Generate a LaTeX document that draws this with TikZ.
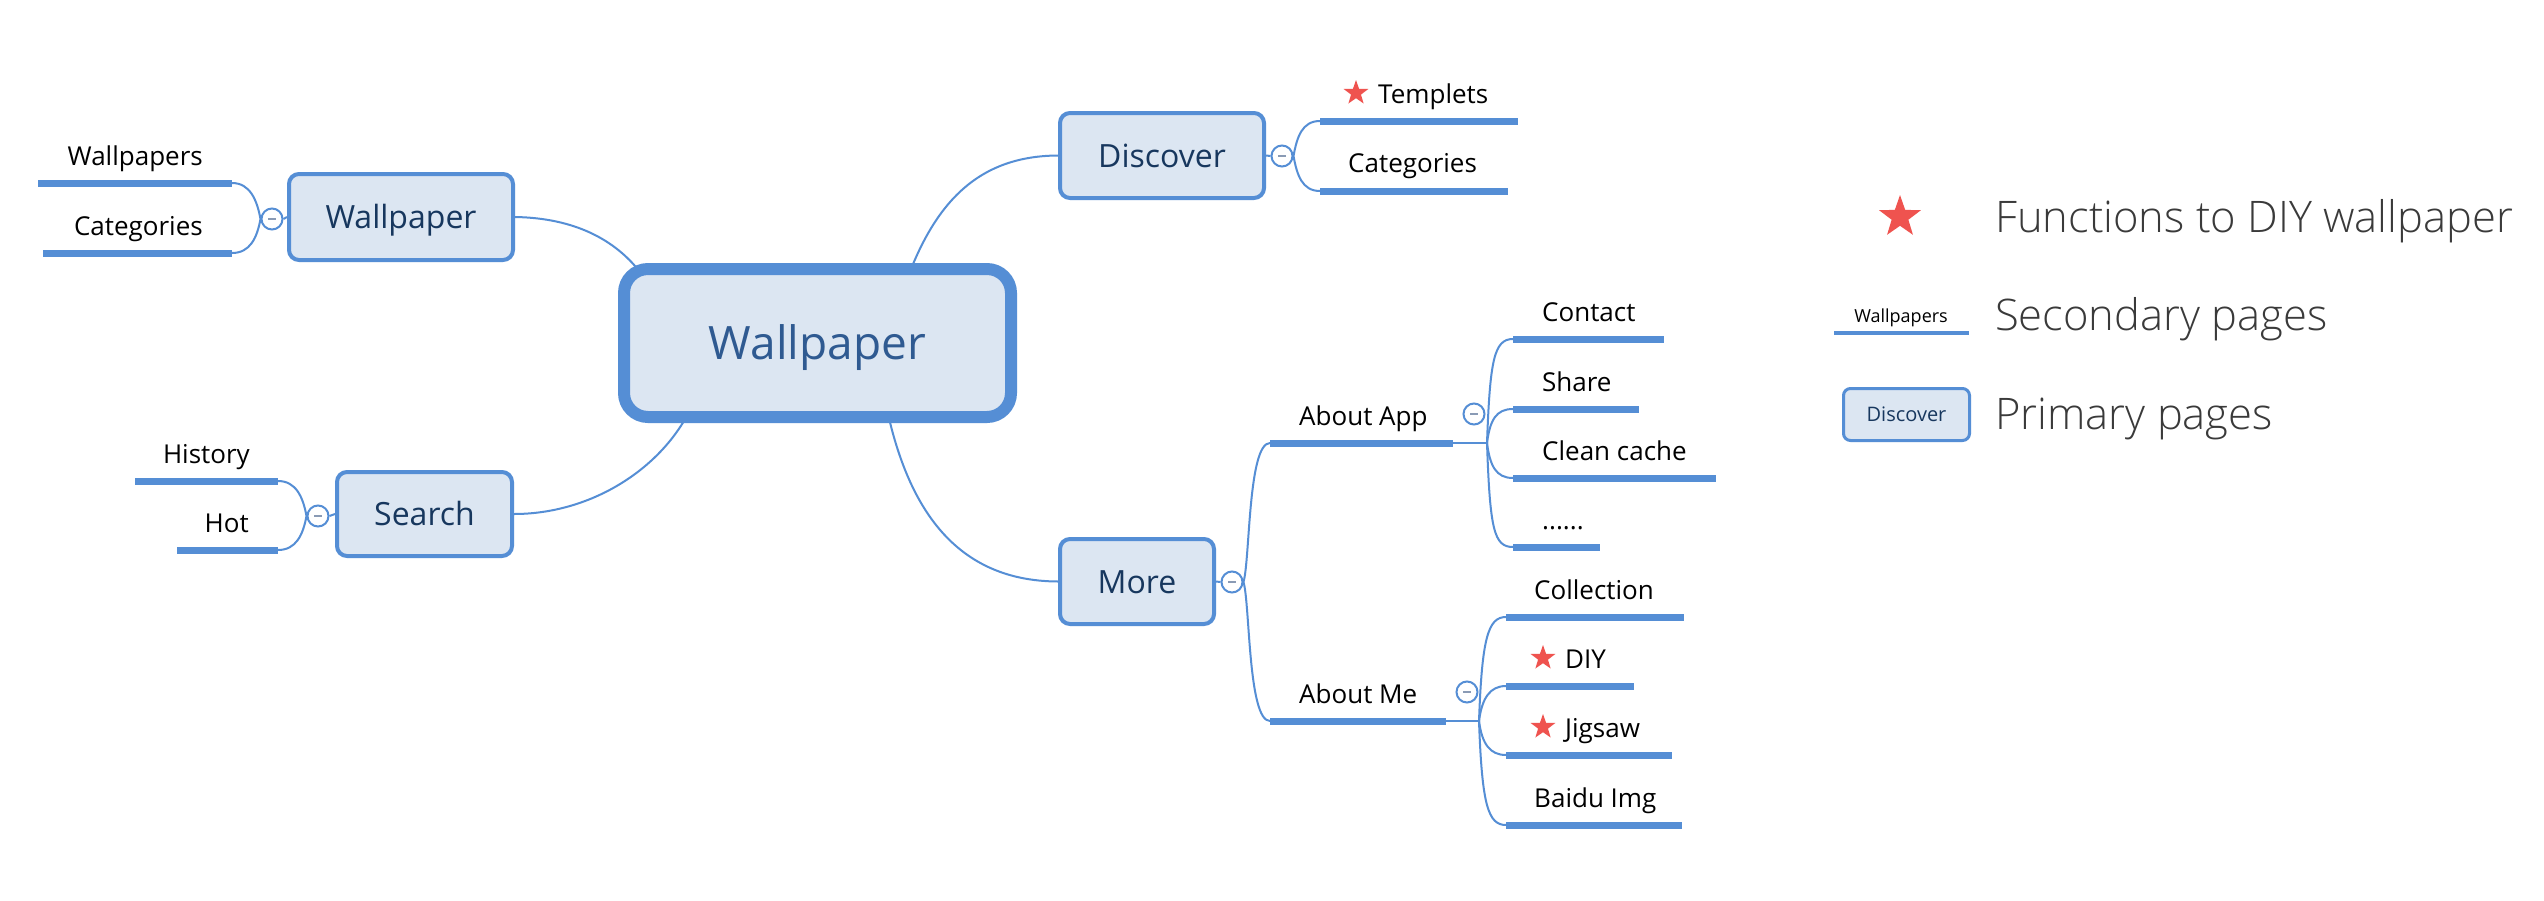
\documentclass[tikz,border=0pt]{standalone}
\usepackage{fontspec}
\setmainfont{Open Sans}
\IfFontExistsTF{Open Sans Light}{\newfontfamily\lightfont{Open Sans Light}}{\newfontfamily\lightfont{Open Sans}}
\usetikzlibrary{shapes.geometric}
\definecolor{mblue}{HTML}{558ED5}
\definecolor{mfill}{HTML}{DCE6F2}
\definecolor{navy}{HTML}{17375E}
\definecolor{ctext}{HTML}{2F5A91}
\definecolor{starred}{HTML}{EF534F}
\definecolor{legtext}{HTML}{3A3A3A}
\definecolor{dashgray}{HTML}{8A9BB5}
\pgfdeclarelayer{bg}
\pgfsetlayers{bg,main}
\begin{document}
\begin{tikzpicture}[x=1pt,y=-1pt,
  primary/.style={draw=mblue, fill=mfill, line width=4pt, rounded corners=10pt, text=navy, inner sep=0pt, font=\fontsize{32}{36}\selectfont, text height=23pt, text depth=0pt},
  central/.style={draw=mblue, fill=mfill, line width=12pt, rounded corners=24pt, text=ctext, inner sep=0pt, font=\fontsize{46}{52}\selectfont, text height=33pt, text depth=0pt},
  conn/.style={draw=mblue, line width=2pt},
  uline/.style={draw=mblue, line width=7pt},
  sec/.style={font=\fontsize{26}{30}\selectfont, text=black, inner sep=0pt},
  collapse/.style={circle, draw=mblue, line width=2pt, fill=white, minimum size=21pt, inner sep=0pt,
    path picture={\draw[dashgray, line width=2pt] ([xshift=-4pt]path picture bounding box.center) -- ([xshift=4pt]path picture bounding box.center);}},
  staricon/.style={star, star points=5, star point ratio=2.5, fill=starred, draw=none, inner sep=0pt, minimum size=#1},
  staricon/.default=26pt,
  legend/.style={font=\lightfont\fontsize{43.5}{48}\selectfont, text=legtext, inner sep=0pt, anchor=base west}
]
\useasboundingbox (0,0) rectangle (2544,900);
\begin{pgfonlayer}{bg}
\fill[white] (0,0) rectangle (2544,900);
\end{pgfonlayer}

% primary nodes
\node[central, minimum width=387pt, minimum height=148pt] (root) at (817.5,343) {Wallpaper};
\node[primary, minimum width=224pt, minimum height=86pt] (wp) at (401,217) {Wallpaper};
\node[primary, minimum width=175pt, minimum height=84pt] (search) at (424.5,514) {Search};
\node[primary, minimum width=204pt, minimum height=85pt] (disc) at (1162,155.5) {Discover};
\node[primary, minimum width=154pt, minimum height=85pt] (more) at (1137,581.5) {More};

\coordinate (rootWP) at (640,272);
\coordinate (rootS) at (690,410);
\coordinate (rootD) at (905,285);
\coordinate (rootM) at (885,400);
\begin{pgfonlayer}{bg}
\draw[conn] (wp.east) .. controls (575,218) and (615,240) .. (rootWP);
\draw[conn] (search.east) .. controls (590,514) and (660,470) .. (rootS);
\draw[conn] (rootD) .. controls (935,200) and (980,156) .. (disc.west);
\draw[conn] (rootM) .. controls (905,500) and (950,581) .. (more.west);
\end{pgfonlayer}

% ---- left Wallpaper group
\node[collapse] (cwp) at (272,219) {};
\draw[conn] (wp.west) -- (cwp.east);
\coordinate (wpa1) at (38,183); \coordinate (wpa2) at (232,183);
\coordinate (wpb1) at (43,253); \coordinate (wpb2) at (232,253);
\draw[uline] (wpa1) -- (wpa2);
\draw[uline] (wpb1) -- (wpb2);
\draw[conn] (cwp.west) .. controls (257,200) and (250,183) .. (wpa2);
\draw[conn] (cwp.west) .. controls (257,238) and (250,253) .. (wpb2);
\node[sec, anchor=base east] (twpa) at (203,165) {Wallpapers};
\node[sec, anchor=base east] (twpb) at (203,235) {Categories};

% ---- Search group
\node[collapse] (cs) at (318,516) {};
\draw[conn] (search.west) -- (cs.east);
\coordinate (hi1) at (135,481); \coordinate (hi2) at (278,481);
\coordinate (ho1) at (177,550); \coordinate (ho2) at (278,550);
\draw[uline] (hi1) -- (hi2);
\draw[uline] (ho1) -- (ho2);
\draw[conn] (cs.west) .. controls (303,497) and (296,481) .. (hi2);
\draw[conn] (cs.west) .. controls (303,535) and (296,550) .. (ho2);
\node[sec, anchor=base east] (thi) at (250,463) {History};
\node[sec, anchor=base east] (tho) at (249,532) {Hot};

% ---- Discover group
\node[collapse] (cd) at (1282,156) {};
\draw[conn] (disc.east) -- (cd.west);
\coordinate (dt1) at (1320,121); \coordinate (dt2) at (1518,121);
\coordinate (dc1) at (1320,191); \coordinate (dc2) at (1508,191);
\draw[uline] (dt1) -- (dt2);
\draw[uline] (dc1) -- (dc2);
\draw[conn] (cd.east) .. controls (1297,137) and (1302,121) .. (dt1);
\draw[conn] (cd.east) .. controls (1297,175) and (1302,191) .. (dc1);
\node[staricon] (sdt) at (1356,93) {};
\node[sec, anchor=base west] (tdt) at (1378,103) {Templets};
\node[sec, anchor=base west] (tdc) at (1348,172) {Categories};

% ---- More group
\node[collapse] (cm) at (1232,582) {};
\draw[conn] (more.east) -- (cm.west);
\coordinate (aa1) at (1270,443); \coordinate (aa2) at (1453,443);
\coordinate (am1) at (1270,721); \coordinate (am2) at (1446,721);
\draw[uline] (aa1) -- (aa2);
\draw[uline] (am1) -- (am2);
\draw[conn] (cm.east) .. controls (1250,560) and (1248,443) .. (aa1);
\draw[conn] (cm.east) .. controls (1250,604) and (1248,721) .. (am1);
\node[sec, anchor=base west] (taa) at (1299,425) {About App};
\node[sec, anchor=base west] (tam) at (1299,703) {About Me};

% About App children
\coordinate (aas) at (1487,443);
\draw[conn] (aa2) -- (aas);
\node[collapse] (caa) at (1474,414) {};
\coordinate (ct1) at (1513,339); \coordinate (ct2) at (1664,339);
\coordinate (sh1) at (1513,409); \coordinate (sh2) at (1639,409);
\coordinate (cc1) at (1513,478); \coordinate (cc2) at (1716,478);
\coordinate (dd1) at (1513,547); \coordinate (dd2) at (1600,547);
\draw[uline] (ct1) -- (ct2);
\draw[uline] (sh1) -- (sh2);
\draw[uline] (cc1) -- (cc2);
\draw[uline] (dd1) -- (dd2);
\draw[conn] (aas) .. controls (1490,360) and (1494,339) .. (ct1);
\draw[conn] (aas) .. controls (1490,420) and (1496,409) .. (sh1);
\draw[conn] (aas) .. controls (1490,466) and (1496,478) .. (cc1);
\draw[conn] (aas) .. controls (1490,530) and (1494,547) .. (dd1);
\node[sec, anchor=base west] (tct) at (1542,321) {Contact};
\node[sec, anchor=base west] (tsh) at (1542,391) {Share};
\node[sec, anchor=base west] (tcc) at (1542,460) {Clean cache};
\node[sec, anchor=base west] (tdd) at (1542,529) {......};

% About Me children
\coordinate (ams) at (1479,721);
\draw[conn] (am2) -- (ams);
\node[collapse] (cam) at (1467,692) {};
\coordinate (co1) at (1506,617); \coordinate (co2) at (1684,617);
\coordinate (di1) at (1506,686); \coordinate (di2) at (1634,686);
\coordinate (ji1) at (1506,755); \coordinate (ji2) at (1672,755);
\coordinate (bi1) at (1506,825); \coordinate (bi2) at (1682,825);
\draw[uline] (co1) -- (co2);
\draw[uline] (di1) -- (di2);
\draw[uline] (ji1) -- (ji2);
\draw[uline] (bi1) -- (bi2);
\draw[conn] (ams) .. controls (1482,638) and (1488,617) .. (co1);
\draw[conn] (ams) .. controls (1482,698) and (1490,686) .. (di1);
\draw[conn] (ams) .. controls (1482,744) and (1490,755) .. (ji1);
\draw[conn] (ams) .. controls (1482,805) and (1488,825) .. (bi1);
\node[sec, anchor=base west] (tco) at (1534,599) {Collection};
\node[staricon] (sdi) at (1543,658) {};
\node[sec, anchor=base west] (tdi) at (1565,668) {DIY};
\node[staricon] (sji) at (1543,727) {};
\node[sec, anchor=base west] (tji) at (1565,737) {Jigsaw};
\node[sec, anchor=base west] (tbi) at (1534,807) {Baidu Img};

% ---- Legend
\node[staricon=44pt] (lstar) at (1900,217) {};
\node[legend] (l1) at (1995,232) {Functions to DIY wallpaper};
\coordinate (lla) at (1834,333); \coordinate (llb) at (1969,333);
\draw[mblue, line width=4pt] (lla) -- (llb);
\node[font=\fontsize{18}{20}\selectfont, inner sep=0pt, anchor=base] (lwp) at (1901,322) {Wallpapers};
\node[legend] (l2) at (1995,330) {Secondary pages};
\node[draw=mblue, fill=mfill, line width=3pt, rounded corners=7pt, minimum width=126pt, minimum height=52pt, inner sep=0pt, text=navy, font=\fontsize{20}{24}\selectfont, text height=14.4pt, text depth=0pt] (ldisc) at (1906.5,414.5) {Discover};
\node[legend] (l3) at (1995,429) {Primary pages};
\end{tikzpicture}
\end{document}
